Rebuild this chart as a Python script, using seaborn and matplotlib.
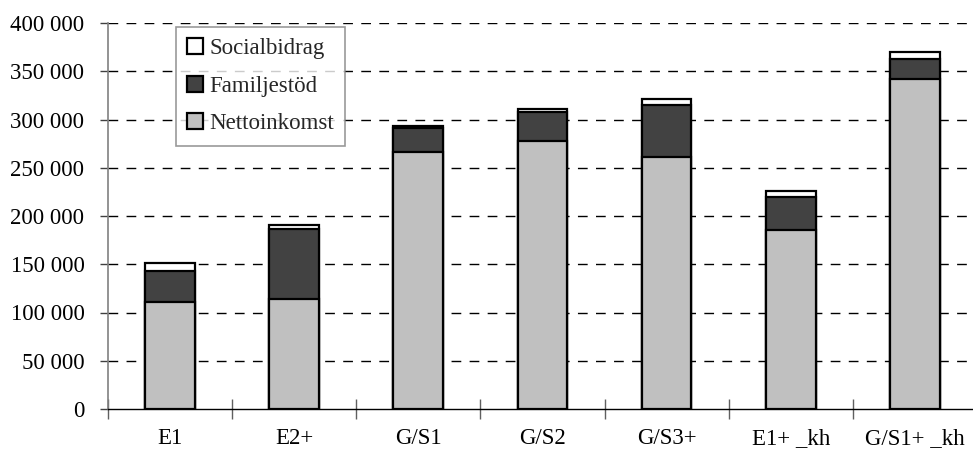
import matplotlib
matplotlib.use("Agg")
import matplotlib.pyplot as plt
from matplotlib.ticker import FuncFormatter, FixedLocator
import seaborn as sns
import pandas as pd
import numpy as np

# Household groups and yearly income components (SEK)
groups = ["E1", "E2+", "G/S1", "G/S2", "G/S3+", "E1+ _kh", "G/S1+ _kh"]
nettoinkomst = [111000, 114000, 266500, 277500, 261000, 186000, 341500]
familjestod = [31500, 72500, 25000, 30500, 54000, 34000, 21000]
socialbidrag = [8500, 4000, 2000, 3000, 6000, 6000, 7000]

df = pd.DataFrame({
    "grupp": groups,
    "Nettoinkomst": nettoinkomst,
    "Familjestöd": familjestod,
    "Socialbidrag": socialbidrag,
})
# cumulative levels for stacking
df["lvl1"] = df["Nettoinkomst"]
df["lvl2"] = df["lvl1"] + df["Familjestöd"]
df["lvl3"] = df["lvl2"] + df["Socialbidrag"]

sns.set_theme(style="white")
plt.rcParams["font.family"] = ["Liberation Serif", "DejaVu Serif"]
FS = 16.5

fig = plt.figure(figsize=(9.73, 4.58), dpi=100)
ax = fig.add_axes([108 / 973, 49 / 458, 1 - 108 / 973 + 0.004, 386 / 458])

edge = dict(edgecolor="black", linewidth=1.6)
sns.barplot(data=df, x="grupp", y="lvl3", color="white", width=0.4,
            saturation=1, label="Socialbidrag", ax=ax, **edge)
sns.barplot(data=df, x="grupp", y="lvl2", color="#424242", width=0.4,
            saturation=1, label="Familjestöd", ax=ax, **edge)
sns.barplot(data=df, x="grupp", y="lvl1", color="#c0c0c0", width=0.4,
            saturation=1, label="Nettoinkomst", ax=ax, **edge)

ax.set_ylim(0, 400000)
ax.set_xlim(-0.5, 6.5)
ax.set_yticks(np.arange(0, 400001, 50000))
ax.yaxis.set_major_formatter(FuncFormatter(lambda v, p: f"{int(v):,}".replace(",", " ")))
ax.set_xlabel("")
ax.set_ylabel("")

# dashed gridlines
for v in range(50000, 400001, 50000):
    ax.axhline(v, color="black", linewidth=1.0, linestyle=(0, (7, 6)), zorder=0)

for s in ["top", "right"]:
    ax.spines[s].set_visible(False)
ax.spines["left"].set_color("#808080")
ax.spines["left"].set_linewidth(1.2)
ax.spines["bottom"].set_color("black")
ax.spines["bottom"].set_linewidth(1.0)

ax.tick_params(axis="y", which="major", direction="out", length=6, width=1,
               color="#404040", labelsize=FS, labelcolor="black", pad=11, left=True)
ax.tick_params(axis="x", which="major", length=0, labelsize=FS, pad=14,
               labelcolor="black")
ax.xaxis.set_minor_locator(FixedLocator(np.arange(-0.5, 6.6, 1.0)))
ax.tick_params(axis="x", which="minor", direction="inout", length=14, width=1,
               color="#606060", bottom=True)

handles, labels = ax.get_legend_handles_labels()
leg = ax.legend(handles, labels, loc="upper left", bbox_to_anchor=(0.078, 0.99),
                fontsize=FS, frameon=True, fancybox=False, edgecolor="#808080",
                handlelength=0.7, handleheight=0.7, handletextpad=0.25,
                labelspacing=0.72, borderpad=0.5, borderaxespad=0.0)
leg.get_frame().set_linewidth(1.2)

fig.savefig("out.png", dpi=100)
